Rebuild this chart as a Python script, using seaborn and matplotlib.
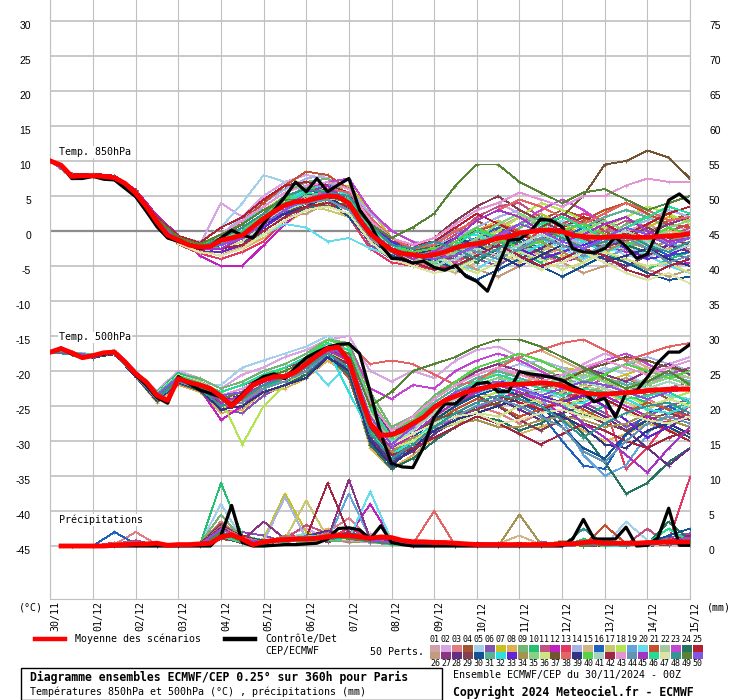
import numpy as np
import pandas as pd
import matplotlib
matplotlib.use("Agg")
import matplotlib.pyplot as plt
from matplotlib.lines import Line2D
from matplotlib.patches import Rectangle
from matplotlib.transforms import ScaledTranslation
import seaborn as sns

# ---------------------------------------------------------------- data
DATE_LABELS = ["30/11", "01/12", "02/12", "03/12", "04/12", "05/12", "06/12", "07/12",
               "08/12", "09/12", "10/12", "11/12", "12/12", "13/12", "14/12", "15/12"]
DAYS_6H = np.arange(61) * 0.25          # 00Z 30/11 .. 00Z 15/12, every 6 h
DAYS_12H = np.arange(31) * 0.5          # every 12 h
LEFT_TICKS = list(range(-45, 31, 5))
RIGHT_TICKS = list(range(0, 76, 5))
MEMBER_IDS = [f"{i:02d}" for i in range(1, 51)]
PERT_COLORS = ['#d4a0a8', '#d8a4e4', '#e07c84', '#a45430', '#a4d0ec', '#8454b4', '#c8c024',
               '#e0b054', '#74b474', '#24c074', '#c45080', '#c020c0', '#e43864', '#a4b4e4',
               '#d4b484', '#2060c0', '#c8c870', '#b4e454', '#64a4dc', '#64dcec', '#c45030',
               '#a4c8a0', '#c444d4', '#247460', '#b42030', '#c49c7c', '#8c3484', '#643084',
               '#844050', '#145094', '#54b494', '#30e0e0', '#6424d4', '#a49454', '#84d484',
               '#cce484', '#745430', '#e46464', '#303484', '#54d444', '#a4d4c4', '#a42444',
               '#e494d4', '#6494b4', '#a434c4', '#24dc94', '#dce4a4', '#349494', '#548434',
               '#8454e4']

T850_MEAN = [10.0, 9.4, 7.8, 7.9, 7.9, 7.8, 7.6, 6.8, 5.4, 3.5, 1.3, -0.6, -1.3, -2.0, -2.3, -2.2,
             -1.3, -1.0, -0.6, 0.6, 1.8, 2.8, 3.7, 4.2, 4.3, 4.7, 5.0, 4.9, 4.0, 1.6, -0.4, -1.6,
             -2.7, -3.2, -3.4, -3.6, -3.4, -3.0, -2.4, -2.0, -1.8, -1.5, -1.0, -0.8, -0.3, -0.1,
             0.1, 0.1, -0.1, -0.6, -0.8, -0.9, -0.9, -0.8, -0.8, -0.9, -0.9, -0.8, -0.7, -0.6, -0.4]
T850_CTRL = [10.0, 9.4, 7.5, 7.5, 7.8, 7.4, 7.3, 6.1, 4.9, 2.8, 0.6, -1.0, -1.5, -2.0, -2.5, -2.2,
             -1.0, 0.1, -0.6, -1.0, 1.1, 3.0, 4.9, 7.0, 5.6, 7.5, 5.6, 6.6, 7.5, 3.0, 1.0, -2.0,
             -3.9, -4.0, -4.6, -4.3, -5.2, -5.6, -4.9, -6.5, -7.2, -8.6, -4.9, -1.3, -1.2, -0.1,
             1.7, 1.5, 0.6, -2.5, -3.0, -3.1, -2.5, -0.9, -2.2, -3.9, -3.3, 0.1, 4.4, 5.3, 4.0]
T500_MEAN = [-17.3, -16.8, -17.4, -18.1, -17.8, -17.4, -17.3, -18.7, -20.4, -21.6, -23.5, -24.2,
             -21.1, -21.6, -22.0, -22.5, -23.6, -25.0, -23.6, -22.0, -21.3, -20.8, -20.8, -20.1,
             -19.0, -17.8, -16.8, -16.6, -18.5, -23.3, -27.5, -29.2, -29.1, -28.5, -27.5, -26.6,
             -25.2, -24.2, -23.6, -23.0, -22.6, -22.3, -22.0, -21.9, -21.9, -21.8, -21.7, -21.8,
             -22.1, -22.7, -23.1, -23.3, -23.3, -23.2, -23.1, -23.0, -22.8, -22.7, -22.6, -22.6,
             -22.6]
T500_CTRL = [-17.3, -16.7, -17.6, -18.1, -17.8, -17.6, -17.3, -18.8, -20.6, -22.0, -23.8, -24.6,
             -20.8, -21.8, -22.7, -23.2, -23.7, -24.8, -23.3, -21.8, -20.8, -20.4, -21.1, -19.5,
             -18.1, -17.3, -16.6, -16.2, -16.1, -17.5, -23.0, -29.0, -33.2, -33.7, -33.8, -30.9,
             -26.6, -24.7, -24.7, -23.3, -21.8, -21.6, -23.0, -22.9, -20.1, -20.4, -20.6, -20.9,
             -21.3, -22.2, -22.9, -24.4, -23.9, -26.6, -23.1, -22.8, -20.9, -18.8, -17.3, -17.3,
             -16.2]
# precipitation (mm per step), first value at 06Z 30/11
PRECIP_MEAN = [0, 0, 0, 0, 0, 0.1, 0.2, 0.3, 0.3, 0.4, 0.1, 0.2, 0.2, 0.3, 0.4, 1.3, 1.6, 1.0,
               0.2, 0.6, 0.8, 0.9, 1.0, 1.0, 1.1, 1.3, 1.5, 1.5, 1.3, 1.1, 1.3, 1.2, 0.8, 0.6,
               0.6, 0.5, 0.5, 0.4, 0.3, 0.2, 0.2, 0.2, 0.2, 0.2, 0.2, 0.2, 0.2, 0.3, 0.3, 0.5,
               0.6, 0.4, 0.4, 0.4, 0.4, 0.5, 0.5, 0.6, 0.6, 0.6]
PRECIP_CTRL = [0, 0, 0, 0, 0, 0, 0, 0, 0, 0, 0, 0, 0, 0, 0,
               1.5, 5.8, 0.5, 0, 0, 0.1, 0.2, 0.2, 0.3, 0.4, 1.0, 2.5, 2.6, 2.3, 1.0, 2.9, 0.5,
               0.2, 0, 0,
               0, 0, 0, 0, 0, 0, 0, 0, 0, 0, 0, 0, 0,
               1.0, 3.8, 1.0, 1.0, 1.0, 2.7, 0, 0.1, 1.2, 5.4, 0.1, 0.1]

# 50 perturbed members, 12-hourly (T850 / T500 from 00Z 30/11, precip from 12Z 30/11)
T850_MEMBERS = [
    "10 7.9 7.8 7.6 5.2 1.0 -1.5 -2.8 -2.0 -1.0 1.5 3.0 5.5 6.5 5.0 0.5 -2.5 -3.0 -4.0 -3.0 -1.5 0.5 2.0 1.0 -1.0 -2.0 -1.5 0.0 1.0 -0.5 -1.0",
    "10 8.0 8.1 7.8 5.5 1.5 -1.0 -2.0 4.0 2.0 5.0 7.0 8.0 7.5 6.0 2.0 -1.5 -3.5 -2.0 1.0 3.0 4.0 2.5 0.5 -1.0 0.5 2.0 3.0 2.5 1.0 0.0",
    "10 7.7 7.9 7.4 5.0 0.8 -1.8 -3.0 -3.5 -2.0 0.5 2.5 4.0 6.0 3.5 -1.0 -3.5 -4.5 -5.0 -4.0 -3.0 -1.5 -2.0 -3.5 -2.5 -1.0 0.5 -0.5 -2.0 -3.0 -2.5",
    "10 7.8 7.9 7.7 5.6 1.8 -1.2 -2.2 -1.0 0.5 2.0 4.5 5.0 5.5 4.0 -0.5 -2.0 -2.5 -1.5 0.0 1.5 0.0 -1.0 1.5 3.0 2.0 0.0 -1.5 -0.5 1.5 2.5",
    "10 8.1 8.0 7.9 5.8 2.0 -0.8 -1.5 0.5 4.0 8.0 7.0 6.0 5.0 5.5 1.0 -2.0 -3.0 -3.5 -1.0 -2.0 -3.5 -1.0 0.5 1.5 0.0 -2.0 -3.5 -4.0 -2.0 -1.0",
    "10 7.8 7.7 7.5 5.3 1.2 -1.6 -2.5 -2.5 -1.5 1.0 3.5 4.5 4.0 3.0 -2.0 -4.0 -4.5 -4.0 -2.5 -4.0 -5.0 -3.0 -1.0 0.5 -1.0 -3.0 -2.0 -1.0 -3.0 -4.0",
    "10 7.9 8.0 7.6 5.4 1.3 -1.1 -2.4 -2.0 -0.5 2.5 5.0 4.0 5.5 6.5 3.0 -1.0 -2.0 -2.5 -3.5 -2.0 0.0 1.0 2.5 1.0 -0.5 -2.5 -1.0 0.5 2.0 1.5",
    "10 7.6 7.8 7.5 5.1 1.0 -1.4 -2.6 -1.5 -2.5 -1.0 1.0 3.0 5.0 4.5 0.0 -3.0 -4.0 -3.0 -2.0 0.0 1.5 0.0 -2.0 -3.5 -4.0 -2.5 -1.0 -2.0 -3.0 -2.0",
    "10 8.0 7.9 7.8 5.6 1.4 -1.0 -2.0 -1.0 1.0 3.5 5.5 7.0 7.5 5.0 -0.5 -2.5 -3.5 -3.0 -1.5 -3.0 -2.0 0.5 1.5 0.0 -1.5 -1.0 1.0 2.0 0.5 -1.0",
    "10 7.9 7.8 7.7 5.5 1.6 -1.3 -2.3 -2.5 -1.0 0.0 2.0 3.5 5.0 4.0 1.5 -1.5 -3.0 -4.5 -5.5 -3.5 -1.5 -3.0 -4.5 -3.0 -1.5 -3.0 -4.5 -5.5 -4.0 -3.0",
    "10 7.8 7.9 7.5 5.2 1.1 -1.5 -2.7 -1.8 0.0 2.0 3.0 4.0 5.0 3.0 -1.5 -3.5 -3.5 -2.5 -0.5 2.0 3.5 4.0 2.0 0.5 -1.0 0.0 1.5 0.5 -1.0 0.5",
    "10 8.2 8.1 7.9 5.9 2.2 -0.6 -3.5 -5.0 -5.0 -2.0 1.0 3.5 6.5 5.0 1.0 -1.0 -2.0 -3.0 -4.0 -2.5 -1.0 -2.0 -3.0 -4.5 -3.5 -2.0 -3.0 -3.5 -5.0 -4.5",
    "10 7.7 7.8 7.4 4.9 0.9 -1.9 -3.2 -4.0 -3.0 -1.5 1.5 3.0 4.0 2.0 -2.5 -4.5 -5.0 -5.5 -4.5 -3.0 -3.5 -2.0 0.0 1.0 2.5 1.5 0.0 -1.0 0.0 1.0",
    "10 7.9 8.0 7.7 5.4 1.5 -1.2 -2.1 -0.5 2.0 4.0 6.0 7.5 8.0 6.0 2.5 0.0 -1.5 -2.0 -1.0 0.5 2.0 3.0 1.5 -0.5 -2.0 -1.5 0.5 1.5 3.0 2.0",
    "10 7.8 7.8 7.6 5.3 1.3 -1.4 -2.9 -3.0 -2.5 0.5 3.0 5.0 4.0 5.0 0.0 -3.5 -4.0 -5.0 -6.0 -4.5 -2.5 -1.0 -2.5 -1.5 0.0 -1.0 -2.5 -3.5 -2.5 -1.5",
    "10 8.0 7.9 7.6 5.4 1.2 -1.2 -2.3 -1.5 -0.5 1.5 3.5 5.0 6.0 4.5 -1.0 -3.0 -4.0 -3.5 -2.0 -1.0 0.5 -1.0 -2.5 -1.0 0.5 1.5 0.0 -2.0 -3.5 -3.0",
    "10 7.9 7.7 7.5 5.2 1.0 -1.6 -2.6 -2.0 -1.0 1.0 2.0 3.5 3.0 2.0 -1.5 -3.0 -2.5 -3.5 -2.5 -2.0 -3.0 -4.5 -3.0 -1.0 -0.5 -2.0 -2.5 -1.5 0.0 -0.5",
    "10 8.1 8.0 7.8 5.7 1.7 -0.9 -1.8 -0.5 1.0 3.0 5.0 5.5 6.0 5.5 0.5 -2.5 -3.5 -4.5 -3.5 -1.5 0.0 2.0 4.0 3.0 1.5 0.5 2.0 3.5 2.5 1.0",
    "10 7.8 7.9 7.7 5.5 1.4 -1.3 -2.5 -1.0 0.0 1.0 4.0 6.5 7.0 5.0 0.0 -2.0 -3.0 -1.5 0.0 -1.5 -3.0 -2.0 -0.5 -2.0 -3.5 -4.0 -2.5 -1.0 -1.5 -3.0",
    "10 7.7 7.8 7.5 5.1 1.1 -1.5 -2.6 -2.5 -1.5 -0.5 1.0 0.5 -1.5 -1.0 -2.5 -3.5 -3.0 -4.0 -5.0 -5.5 -3.5 -2.0 -1.0 -2.5 -4.0 -3.0 -2.0 -3.5 -5.0 -6.0",
    "10 7.9 8.0 7.6 5.3 1.3 -1.2 -2.2 -1.0 1.5 4.0 6.5 8.5 8.0 6.0 1.5 -1.5 -2.5 -3.0 -2.0 0.0 1.0 0.0 -1.5 -0.5 1.5 3.0 4.0 2.5 1.0 0.5",
    "10 8.0 7.9 7.7 5.5 1.5 -1.1 -2.1 -1.5 0.0 2.0 4.0 5.0 4.5 3.5 -1.0 -3.0 -3.5 -4.0 -2.5 -3.5 -4.5 -3.0 -2.0 -0.5 -1.5 -2.0 -0.5 0.5 -0.5 -2.0",
    "10 7.8 7.8 7.5 5.2 1.2 -1.5 -2.8 -2.5 -1.0 1.5 3.5 6.0 7.0 7.5 3.0 0.0 -1.5 -3.0 -4.5 -2.0 -1.0 1.0 3.0 4.5 3.0 1.0 -1.0 -2.5 -1.5 0.0",
    "10 7.9 7.9 7.6 5.3 1.3 -1.3 -2.4 -1.8 -0.5 1.0 2.5 3.0 4.5 3.5 -0.5 -2.5 -3.0 -2.0 -3.0 -4.5 -2.5 -1.5 -3.0 -4.0 -2.5 -1.0 -2.0 -3.0 -2.0 -1.0",
    "10 8.1 8.2 7.9 5.8 1.9 -0.7 -1.7 0.5 2.0 4.5 6.5 7.0 6.5 5.5 2.0 -1.0 -2.0 -1.5 0.5 2.5 1.0 -0.5 -1.5 0.5 2.0 1.0 -0.5 1.0 2.5 3.5",
    "10 7.7 7.8 7.4 5.0 0.9 -1.8 -3.1 -3.0 -2.0 0.0 2.0 2.5 4.0 3.0 -1.5 -3.0 -4.0 -5.0 -4.0 -5.5 -6.5 -5.0 -3.5 -4.5 -6.0 -5.0 -4.0 -5.5 -6.5 -5.5",
    "10 7.9 7.9 7.7 5.4 1.4 -1.2 -2.3 -1.5 -0.5 2.5 4.0 4.5 6.0 4.0 -0.5 -2.0 -3.0 -3.5 -1.5 0.0 -1.5 -0.5 1.0 2.5 1.0 -0.5 -1.5 -0.5 1.0 2.0",
    "10 7.8 7.9 7.6 5.3 1.2 -1.4 -2.5 -2.0 -1.0 1.0 3.0 5.0 5.5 4.5 0.0 -2.5 -3.5 -4.5 -3.0 -1.0 -2.5 -4.0 -2.5 -1.0 -2.5 -4.0 -5.0 -3.5 -2.0 -3.0",
    "10 8.0 8.0 7.8 5.6 1.6 -1.0 -1.9 -1.0 1.0 3.0 3.5 5.5 6.0 4.0 1.0 -1.5 -2.0 -1.0 1.5 3.5 5.0 3.0 1.5 0.0 -1.0 -2.5 -1.0 0.5 -1.0 -2.0",
    "10 7.8 7.7 7.5 5.2 1.1 -1.5 -2.7 -2.5 -1.5 0.0 2.0 4.0 4.5 2.0 -1.5 -3.5 -4.5 -4.0 -5.5 -7.0 -5.5 -4.0 -5.0 -6.5 -5.0 -3.5 -4.5 -6.0 -7.0 -6.5",
    "10 7.9 7.8 7.6 5.4 1.3 -1.2 -2.3 -1.0 0.0 2.0 4.5 5.5 5.0 4.0 -0.5 -3.0 -3.5 -3.0 -2.5 -1.5 -0.5 1.0 2.0 1.0 0.5 2.0 3.0 2.0 3.5 2.5",
    "10 8.0 8.1 7.8 5.6 1.6 -1.0 -2.0 -0.5 1.5 3.0 4.0 6.0 6.5 5.0 0.5 -2.0 -3.0 -3.5 -1.0 -0.5 -2.0 -3.5 -2.0 -0.5 -1.5 -3.0 -2.0 -1.5 -0.5 -1.0",
    "10 7.7 7.8 7.5 5.1 1.0 -1.6 -2.8 -3.0 -2.0 0.5 2.5 4.5 6.0 5.5 1.0 -1.5 -3.0 -4.0 -3.5 -2.0 -1.0 -2.5 -4.0 -3.0 -2.0 -1.0 -2.5 -4.0 -3.5 -2.0",
    "10 7.8 7.9 7.6 5.4 1.4 -1.3 -2.4 -1.5 -0.5 1.5 3.0 4.5 5.5 4.5 -0.5 -2.5 -4.0 -3.5 -1.5 -3.0 -1.5 0.0 -1.5 -3.0 -4.5 -3.0 -1.5 -2.5 -1.5 -0.5",
    "10 7.9 8.0 7.7 5.5 1.5 -1.1 -2.1 -1.0 0.0 2.5 4.0 5.0 5.0 3.0 -1.0 -3.0 -4.0 -4.5 -3.0 -1.0 1.0 2.5 1.0 -1.0 0.0 1.5 0.0 -1.5 0.5 1.5",
    "10 7.8 7.7 7.5 5.1 1.0 -1.6 -2.8 -2.5 -1.5 1.0 3.0 3.5 4.5 3.5 0.0 -2.0 -2.5 -3.5 -5.0 -6.0 -4.5 -3.0 -4.0 -5.5 -4.5 -3.0 -4.0 -5.0 -4.5 -6.0",
    "10 8.0 7.9 7.7 5.4 1.3 -1.2 -2.2 -1.5 -1.0 1.0 2.5 4.0 3.5 4.0 1.5 -1.0 -2.5 -3.5 -4.0 -2.5 -1.0 -1.0 0.5 2.0 5.0 9.5 10.0 11.5 10.5 7.5",
    "10 7.9 7.9 7.6 5.3 1.3 -1.3 -2.4 -2.0 -0.5 2.0 3.5 4.5 6.0 5.5 2.0 -1.0 -2.5 -2.0 0.0 1.5 3.0 4.5 3.5 2.0 1.0 2.5 4.0 3.0 1.5 2.0",
    "10 7.8 7.8 7.5 5.2 1.2 -1.4 -2.6 -2.0 -1.0 1.0 2.5 3.5 5.0 3.0 -1.0 -3.0 -3.5 -2.5 -1.0 -2.0 -3.5 -5.0 -3.5 -2.0 -3.0 -4.5 -3.5 -2.5 -4.0 -5.0",
    "10 8.0 8.0 7.7 5.5 1.5 -1.1 -2.1 -1.0 0.5 2.0 4.5 6.5 5.5 4.5 0.5 -2.0 -3.0 -2.5 -1.5 0.5 -1.0 -2.5 -1.5 0.0 1.0 -0.5 -2.0 -1.0 0.5 -0.5",
    "10 7.9 7.8 7.6 5.3 1.2 -1.4 -2.5 -2.0 -1.0 1.5 3.0 4.0 4.5 4.5 0.0 -2.5 -3.5 -5.0 -4.0 -2.5 -3.5 -2.0 -0.5 -1.5 -2.5 -1.0 0.0 -1.5 -3.0 -2.0",
    "10 7.8 7.9 7.5 5.2 1.1 -1.5 -2.7 -2.5 -2.0 0.0 2.0 3.5 4.0 3.5 -0.5 -3.0 -4.5 -5.5 -5.0 -3.5 -2.0 -3.5 -5.0 -4.0 -2.5 -3.5 -5.5 -6.5 -5.0 -4.0",
    "10 8.0 8.0 7.8 5.6 1.6 -0.9 -1.9 -0.5 1.5 3.5 5.5 6.5 7.0 6.0 1.5 -1.0 -2.0 -1.0 1.0 3.0 4.0 5.5 4.5 3.5 5.0 5.0 6.5 7.5 7.0 7.0",
    "10 7.9 7.8 7.6 5.3 1.3 -1.3 -2.4 -1.5 -0.5 1.5 3.5 4.0 4.5 3.0 -1.0 -3.0 -3.5 -3.0 -2.0 -3.0 -4.0 -2.5 -1.0 -2.0 -3.5 -2.0 -1.0 -2.5 -4.5 -3.5",
    "10 7.8 7.8 7.5 5.2 1.1 -1.5 -2.6 -2.5 -1.0 1.0 3.0 5.5 6.5 4.0 -0.5 -2.5 -4.0 -3.0 -1.0 1.5 3.0 2.0 0.0 -1.5 -0.5 1.0 2.0 0.0 -1.5 -1.0",
    "10 7.9 7.9 7.7 5.4 1.4 -1.2 -2.3 -1.5 0.0 2.0 4.0 5.5 5.0 4.5 0.5 -2.0 -3.5 -4.0 -2.0 0.0 -1.0 -0.5 1.0 2.0 0.5 -1.0 0.5 2.0 3.5 2.5",
    "10 7.7 7.8 7.4 5.0 0.9 -1.8 -3.0 -3.5 -2.5 -0.5 1.5 3.0 3.5 2.5 -1.5 -4.0 -5.0 -6.0 -5.5 -4.0 -2.5 -4.0 -5.5 -4.5 -3.0 -4.5 -6.0 -7.0 -6.0 -7.5",
    "10 7.9 8.0 7.6 5.4 1.4 -1.2 -2.3 -1.0 0.5 2.5 5.0 6.0 5.5 5.0 1.0 -2.0 -2.5 -1.5 -2.5 -4.0 -2.5 -1.0 0.5 -1.0 -2.5 -1.5 -0.5 -2.0 -3.0 -1.5",
    "10 8.0 8.0 7.8 5.6 1.7 -0.9 -1.9 -0.5 1.0 3.0 4.5 4.5 5.0 4.0 1.0 -1.0 0.5 2.5 6.5 9.5 9.5 7.0 5.5 4.0 5.5 6.0 4.5 3.0 4.0 5.0",
    "10 7.8 7.9 7.5 5.2 1.2 -1.4 -2.5 -2.0 -1.0 1.0 3.0 4.5 5.5 4.0 0.0 -2.5 -3.5 -4.0 -3.5 -2.0 -0.5 1.0 0.0 -1.5 -2.5 -1.0 0.5 -0.5 -2.0 -1.0",
]

T500_MEMBERS = [
    "-17.3 -17.4 -17.9 -17.2 -20.2 -23.0 -20.5 -21.5 -23.0 -22.0 -20.5 -19.5 -18.0 -16.0 -17.0 -25.0 -29.0 -27.0 -24.0 -22.0 -20.5 -19.5 -21.0 -22.5 -21.0 -20.0 -21.5 -23.0 -22.0 -20.5 -21.0",
    "-17.2 -17.3 -17.6 -17.0 -20.0 -22.8 -20.0 -21.0 -22.5 -20.5 -19.5 -18.0 -17.0 -15.5 -15.0 -20.0 -21.5 -20.0 -21.0 -18.5 -17.0 -16.5 -18.0 -19.5 -21.0 -19.0 -17.5 -18.5 -20.0 -19.0 -18.0",
    "-17.4 -17.6 -18.0 -17.5 -20.6 -24.0 -21.5 -22.5 -25.0 -24.5 -22.0 -21.5 -20.0 -17.5 -20.0 -30.0 -33.0 -31.0 -28.0 -26.5 -25.0 -26.0 -27.5 -26.0 -24.5 -26.0 -27.5 -26.0 -24.0 -25.5 -27.0",
    "-17.3 -17.5 -17.8 -17.3 -20.4 -23.5 -21.0 -22.0 -24.0 -23.0 -21.5 -20.5 -19.0 -17.0 -19.0 -28.0 -31.0 -28.5 -25.5 -23.5 -22.0 -21.0 -20.0 -21.5 -23.0 -24.0 -22.5 -21.0 -22.5 -24.0 -23.0",
    "-17.2 -17.4 -17.7 -17.2 -20.3 -23.2 -20.8 -21.8 -22.0 -19.5 -18.5 -17.5 -16.5 -15.0 -16.5 -26.0 -30.0 -28.0 -25.0 -23.0 -21.5 -20.0 -19.0 -20.0 -22.0 -21.0 -19.5 -20.5 -22.0 -21.0 -20.0",
    "-17.3 -17.5 -17.9 -17.4 -20.5 -23.8 -21.2 -22.4 -25.5 -26.0 -23.5 -22.0 -20.5 -17.5 -19.5 -29.0 -32.5 -30.0 -27.5 -25.0 -23.0 -24.0 -25.5 -24.0 -23.0 -24.5 -26.0 -28.0 -26.5 -25.0 -24.0",
    "-17.3 -17.4 -17.8 -17.3 -20.4 -23.4 -20.8 -21.5 -23.5 -22.5 -21.0 -20.0 -18.5 -16.5 -18.0 -27.0 -30.5 -27.5 -24.5 -22.5 -21.0 -20.5 -21.5 -21.0 -19.5 -20.0 -21.5 -20.5 -19.5 -20.5 -21.5",
    "-17.4 -17.6 -18.1 -17.6 -20.8 -24.5 -22.0 -23.0 -26.0 -25.5 -23.0 -22.5 -21.0 -18.5 -20.5 -31.0 -34.0 -32.0 -29.5 -28.0 -26.5 -27.5 -29.0 -28.0 -27.0 -28.5 -30.0 -29.0 -27.5 -28.5 -29.0",
    "-17.3 -17.5 -17.8 -17.3 -20.3 -23.3 -20.5 -21.0 -22.5 -21.5 -20.0 -19.0 -17.5 -15.5 -16.0 -23.0 -28.0 -26.5 -23.5 -21.5 -20.0 -19.0 -18.0 -19.5 -21.0 -22.0 -20.5 -19.0 -18.5 -19.5 -20.5",
    "-17.2 -17.3 -17.7 -17.1 -20.1 -23.0 -20.3 -21.3 -23.5 -24.5 -22.5 -21.0 -19.5 -17.0 -18.5 -28.5 -32.0 -29.5 -26.5 -24.5 -22.5 -21.5 -22.5 -24.0 -25.0 -26.5 -25.0 -23.5 -24.5 -25.5 -24.5",
    "-17.3 -17.5 -17.9 -17.4 -20.5 -23.6 -21.0 -22.0 -24.5 -23.5 -21.0 -20.0 -19.0 -16.5 -17.5 -26.5 -30.5 -28.5 -26.0 -24.0 -23.0 -22.0 -21.0 -22.0 -23.5 -22.5 -21.0 -22.0 -23.5 -22.5 -21.5",
    "-17.3 -17.4 -17.8 -17.2 -20.3 -23.3 -21.5 -22.5 -27.0 -25.0 -22.5 -21.5 -20.0 -17.0 -19.0 -29.5 -33.5 -31.0 -28.5 -26.5 -25.5 -24.0 -23.0 -24.5 -26.0 -25.0 -23.5 -25.0 -26.5 -27.5 -26.0",
    "-17.4 -17.6 -18.0 -17.5 -20.7 -24.2 -21.8 -22.8 -25.5 -24.0 -22.0 -21.0 -19.5 -17.5 -19.5 -28.0 -31.5 -29.0 -26.5 -24.5 -23.5 -22.5 -24.0 -25.5 -24.0 -23.0 -25.0 -34.0 -31.0 -27.0 -25.0",
    "-17.3 -17.5 -17.8 -17.3 -20.4 -23.5 -21.0 -21.8 -23.0 -22.0 -20.5 -19.5 -18.0 -16.0 -17.0 -24.0 -28.5 -27.0 -24.5 -22.5 -21.0 -20.0 -19.0 -18.5 -19.5 -21.0 -20.0 -19.0 -18.0 -19.0 -20.0",
    "-17.2 -17.3 -17.7 -17.2 -20.2 -23.1 -20.6 -21.4 -23.5 -22.5 -21.0 -20.5 -18.5 -16.5 -17.5 -25.5 -29.5 -28.0 -26.0 -24.0 -21.5 -19.5 -18.0 -17.0 -18.5 -20.0 -19.0 -18.0 -19.5 -21.0 -20.0",
    "-17.3 -17.5 -17.9 -17.4 -20.5 -23.7 -21.2 -22.2 -24.0 -24.5 -22.5 -21.5 -20.5 -18.0 -20.5 -30.5 -33.0 -30.5 -28.0 -26.0 -24.5 -23.5 -24.5 -26.0 -30.0 -33.5 -34.0 -29.0 -26.0 -25.0 -26.5",
    "-17.3 -17.4 -17.8 -17.3 -20.4 -23.4 -21.0 -22.0 -24.0 -23.0 -21.5 -20.0 -19.0 -16.5 -18.0 -27.5 -31.0 -29.0 -26.5 -25.0 -23.5 -22.5 -23.5 -24.5 -23.0 -22.0 -23.0 -24.5 -25.5 -24.0 -23.0",
    "-17.2 -17.4 -17.7 -17.2 -20.2 -23.2 -20.7 -21.6 -24.0 -30.5 -25.0 -22.0 -20.0 -17.5 -18.5 -28.0 -31.5 -29.5 -27.0 -25.5 -24.0 -23.0 -22.0 -23.5 -25.0 -24.0 -22.5 -23.5 -25.0 -24.0 -23.0",
    "-17.3 -17.5 -17.8 -17.3 -20.4 -23.5 -21.0 -22.0 -24.5 -23.5 -21.5 -20.5 -19.0 -16.5 -18.0 -26.0 -30.0 -28.0 -25.5 -23.5 -22.0 -21.0 -22.5 -24.0 -27.0 -32.0 -35.0 -33.5 -29.0 -26.0 -27.0",
    "-17.3 -17.4 -17.8 -17.3 -20.4 -23.4 -21.0 -21.8 -23.5 -22.5 -21.0 -20.0 -18.5 -22.0 -19.0 -27.0 -31.0 -29.0 -26.5 -24.5 -23.5 -22.0 -21.0 -22.5 -24.0 -23.5 -22.0 -21.5 -22.5 -23.5 -24.0",
    "-17.4 -17.6 -18.0 -17.5 -20.7 -24.0 -21.5 -22.5 -25.0 -24.0 -22.0 -21.0 -20.0 -17.5 -21.0 -30.0 -32.5 -30.0 -27.5 -25.5 -24.0 -25.0 -26.5 -25.5 -24.0 -25.5 -27.0 -26.0 -24.5 -25.5 -26.5",
    "-17.3 -17.5 -17.9 -17.3 -20.4 -23.6 -21.1 -22.1 -24.5 -24.0 -22.0 -20.5 -19.0 -16.5 -17.0 -24.5 -29.0 -27.5 -25.0 -23.0 -21.5 -20.5 -21.5 -22.5 -21.5 -20.5 -21.5 -22.5 -21.0 -20.0 -21.0",
    "-17.2 -17.3 -17.7 -17.2 -20.2 -23.1 -20.7 -21.7 -23.0 -22.0 -20.5 -19.5 -18.0 -15.5 -16.5 -22.5 -24.0 -22.0 -22.5 -20.0 -18.5 -17.5 -18.5 -20.0 -21.5 -20.0 -18.5 -17.5 -19.0 -20.5 -19.5",
    "-17.4 -17.6 -18.1 -17.6 -20.8 -24.3 -21.7 -22.8 -25.5 -25.0 -23.0 -22.0 -20.5 -18.0 -20.5 -30.5 -34.0 -32.5 -30.0 -28.0 -26.5 -27.0 -28.5 -27.5 -26.0 -29.0 -33.0 -37.5 -36.0 -33.0 -31.0",
    "-17.3 -17.5 -17.8 -17.3 -20.4 -23.5 -21.0 -22.0 -24.5 -23.5 -21.5 -20.5 -19.5 -17.0 -18.5 -28.0 -32.0 -30.0 -27.5 -26.0 -24.5 -23.5 -24.5 -25.5 -24.5 -23.0 -24.0 -25.5 -27.0 -28.5 -30.0",
    "-17.3 -17.4 -17.8 -17.3 -20.3 -23.3 -20.9 -21.9 -23.5 -22.5 -21.0 -20.0 -18.5 -16.0 -17.5 -26.0 -30.0 -28.5 -26.0 -23.5 -22.0 -21.0 -20.0 -21.0 -22.5 -23.5 -22.0 -21.0 -22.0 -23.0 -22.0",
    "-17.2 -17.4 -17.7 -17.2 -20.2 -23.2 -20.6 -21.6 -23.0 -22.0 -21.0 -19.5 -18.5 -16.0 -17.0 -25.0 -29.0 -27.0 -24.0 -22.0 -20.0 -19.0 -20.0 -21.0 -20.5 -19.5 -20.5 -21.5 -20.0 -19.0 -20.5",
    "-17.4 -17.6 -18.0 -17.5 -20.6 -23.9 -21.4 -22.4 -25.0 -24.0 -22.0 -21.0 -19.5 -17.5 -20.0 -29.5 -33.0 -31.5 -29.0 -27.0 -25.0 -24.0 -25.5 -27.0 -26.0 -25.0 -26.5 -28.5 -31.0 -33.5 -31.0",
    "-17.3 -17.5 -17.8 -17.3 -20.4 -23.5 -21.0 -22.0 -24.0 -23.0 -21.5 -20.5 -19.0 -16.5 -18.5 -27.0 -31.0 -29.0 -26.5 -24.5 -23.5 -25.0 -27.0 -28.5 -27.0 -26.0 -27.5 -28.5 -27.0 -26.0 -27.0",
    "-17.3 -17.4 -17.8 -17.3 -20.3 -23.4 -20.9 -22.0 -24.5 -24.0 -22.0 -20.5 -19.0 -16.5 -18.0 -27.5 -31.5 -29.5 -27.0 -25.0 -23.5 -22.5 -23.5 -25.0 -28.0 -31.0 -32.5 -29.0 -27.0 -28.0 -29.5",
    "-17.2 -17.3 -17.7 -17.2 -20.2 -23.2 -20.7 -21.7 -23.5 -22.5 -21.0 -19.5 -18.0 -16.0 -17.0 -25.5 -29.5 -27.5 -24.5 -22.5 -21.0 -20.0 -21.0 -22.0 -21.0 -20.0 -21.0 -22.0 -21.5 -20.5 -21.5",
    "-17.3 -17.5 -17.9 -17.4 -20.5 -23.6 -21.1 -22.1 -24.5 -23.5 -22.0 -21.0 -19.5 -17.0 -23.0 -29.0 -32.0 -30.0 -27.5 -26.0 -24.5 -23.5 -22.5 -23.5 -25.0 -24.5 -23.0 -24.0 -25.5 -26.0 -25.0",
    "-17.3 -17.4 -17.8 -17.3 -20.4 -23.4 -21.0 -22.0 -24.0 -23.5 -21.5 -20.0 -18.5 -16.5 -18.0 -27.0 -31.0 -28.5 -26.0 -24.0 -22.5 -21.5 -22.0 -23.5 -24.5 -23.5 -25.0 -27.0 -29.5 -28.0 -26.5",
    "-17.4 -17.6 -18.0 -17.5 -20.6 -23.8 -21.3 -22.3 -24.5 -24.0 -22.0 -21.0 -19.5 -17.0 -18.5 -28.0 -31.5 -29.5 -28.5 -27.5 -27.0 -28.0 -28.0 -27.0 -26.5 -27.0 -28.0 -27.5 -26.0 -27.0 -28.0",
    "-17.3 -17.5 -17.8 -17.3 -20.4 -23.5 -21.0 -22.0 -23.5 -23.0 -21.0 -20.0 -18.5 -16.0 -17.5 -26.5 -30.0 -28.0 -25.5 -23.5 -22.0 -21.0 -21.5 -22.0 -21.0 -20.5 -21.5 -22.5 -22.0 -21.0 -22.0",
    "-17.2 -17.4 -17.7 -17.2 -20.2 -23.1 -20.6 -21.6 -23.0 -24.5 -21.0 -19.5 -18.0 -16.0 -17.5 -26.0 -31.0 -30.0 -28.0 -27.5 -26.0 -26.5 -25.0 -24.0 -24.5 -26.0 -27.0 -26.0 -25.0 -24.0 -25.0",
    "-17.3 -17.5 -17.8 -17.3 -20.4 -23.5 -21.0 -22.0 -24.0 -23.0 -21.5 -20.5 -19.0 -17.0 -18.5 -27.5 -31.0 -29.0 -27.0 -26.0 -25.5 -24.5 -23.5 -22.5 -21.5 -20.0 -19.0 -18.0 -18.5 -19.5 -20.0",
    "-17.3 -17.4 -17.9 -17.4 -20.5 -23.6 -21.2 -22.2 -24.5 -24.0 -22.5 -21.5 -20.0 -17.5 -16.0 -19.0 -18.5 -19.0 -20.5 -22.0 -21.5 -19.5 -18.0 -17.0 -16.0 -15.5 -17.0 -18.5 -17.5 -16.5 -16.0",
    "-17.4 -17.6 -18.1 -17.6 -20.8 -24.2 -21.6 -22.6 -25.5 -25.0 -23.0 -22.0 -21.0 -18.0 -20.0 -30.0 -33.5 -31.0 -28.5 -27.0 -26.0 -25.0 -24.0 -25.0 -26.5 -28.0 -30.5 -31.0 -28.5 -27.5 -29.0",
    "-17.3 -17.5 -17.8 -17.3 -20.4 -23.5 -21.0 -22.0 -23.5 -22.5 -21.0 -19.5 -18.0 -15.5 -16.5 -24.0 -28.5 -27.0 -24.0 -21.5 -19.5 -18.5 -17.5 -18.5 -20.0 -21.5 -20.5 -19.0 -20.0 -21.0 -20.0",
    "-17.2 -17.3 -17.7 -17.2 -20.2 -23.2 -20.8 -21.8 -24.0 -23.0 -21.0 -20.0 -18.5 -16.5 -17.5 -26.5 -30.5 -28.5 -26.0 -24.0 -22.5 -21.5 -22.5 -23.0 -22.0 -21.5 -22.5 -23.5 -22.5 -21.5 -22.5",
    "-17.3 -17.5 -17.9 -17.4 -20.5 -23.6 -21.2 -22.2 -25.0 -24.5 -22.5 -21.5 -20.0 -17.5 -19.0 -28.0 -32.0 -31.0 -29.5 -28.0 -26.5 -27.5 -29.0 -30.5 -29.0 -27.5 -28.5 -30.0 -31.0 -29.5 -28.5",
    "-17.3 -17.4 -17.8 -17.3 -20.4 -23.4 -20.9 -21.9 -23.5 -22.5 -21.0 -20.0 -18.5 -16.0 -17.0 -24.5 -28.5 -26.5 -24.0 -22.0 -20.5 -19.5 -20.5 -21.5 -20.5 -19.5 -18.5 -19.5 -20.5 -19.5 -18.5",
    "-17.4 -17.6 -18.0 -17.5 -20.7 -24.0 -21.5 -22.5 -25.0 -24.5 -22.5 -21.5 -20.0 -17.5 -19.5 -29.0 -32.5 -30.5 -28.0 -26.5 -25.0 -24.0 -25.0 -26.5 -28.0 -31.5 -33.0 -30.0 -27.5 -26.5 -27.5",
    "-17.3 -17.5 -17.8 -17.3 -20.4 -23.5 -21.0 -22.0 -24.5 -23.5 -22.0 -20.5 -19.5 -17.0 -18.5 -27.5 -31.0 -29.0 -26.5 -24.5 -23.0 -22.0 -23.0 -24.0 -25.0 -27.5 -29.5 -32.0 -34.5 -31.0 -28.0",
    "-17.2 -17.3 -17.7 -17.2 -20.2 -23.2 -20.7 -21.7 -23.0 -22.0 -20.5 -19.5 -18.0 -16.0 -17.0 -25.0 -29.5 -27.5 -25.0 -23.0 -21.5 -20.5 -21.5 -22.5 -23.5 -22.5 -23.0 -24.0 -23.5 -23.0 -24.5",
    "-17.3 -17.4 -17.8 -17.3 -20.4 -23.4 -21.0 -22.0 -24.0 -23.0 -21.5 -20.0 -19.0 -16.5 -18.0 -27.0 -30.5 -29.0 -27.5 -26.5 -26.0 -27.5 -27.0 -26.0 -25.5 -26.5 -27.0 -26.0 -27.0 -27.5 -26.5",
    "-17.4 -17.6 -18.0 -17.5 -20.6 -23.9 -21.4 -22.4 -25.0 -24.0 -22.0 -21.0 -19.5 -17.5 -19.5 -29.0 -32.5 -30.5 -28.0 -26.0 -24.5 -23.5 -24.0 -25.0 -27.0 -29.5 -27.5 -26.0 -25.0 -24.5 -26.0",
    "-17.3 -17.5 -17.8 -17.3 -20.4 -23.5 -21.0 -22.0 -24.0 -23.0 -21.0 -20.0 -18.5 -16.5 -17.5 -25.0 -23.0 -20.0 -19.0 -18.0 -16.5 -15.5 -15.5 -16.5 -18.0 -19.5 -21.0 -22.5 -21.5 -20.0 -22.0",
    "-17.3 -17.4 -17.8 -17.3 -20.4 -23.4 -20.9 -21.9 -23.5 -23.0 -21.5 -20.5 -19.0 -16.5 -18.0 -26.5 -30.5 -28.0 -25.0 -23.0 -22.0 -21.5 -22.5 -23.5 -22.5 -21.5 -22.0 -23.0 -24.0 -23.0 -22.5",
]

PRECIP_MEMBERS = [
    "0 0 0.3 0.2 0.1 0 0.2 1.5 0.5 0.8 1.0 0.6 1.5 1.2 0.8 0.3 0.2 0.1 0 0.2 0 0 0.3 0.1 0 0.5 0.2 0 0.3 0.6",
    "0 0 0.5 0.3 0 0 0.1 2.0 0.8 0.4 1.5 2.5 1.0 0.5 1.8 0.6 0.2 0 0 0 0.4 0.1 0 0 0.2 0 0 0.6 1.2 0.4",
    "0 0 0.2 2.0 0.2 0.1 0.3 3.5 1.2 0.6 0.5 1.0 2.0 4.0 1.0 0.5 0.2 0.8 0.3 0 0 0.2 0 0.5 0.3 0 0.2 0.4 0.8 1.0",
    "0 0 0 0.3 0.4 0 0 1.0 0.6 0.2 0.8 0.5 0.9 1.2 0.5 0.2 0.1 0 0 0 0.3 0 0 0 0 0.4 0 0.2 0.3 0.2",
    "0 0 0.2 0.1 0 0 0.2 6.0 1.0 0.8 1.2 1.8 1.0 0.6 0.8 0.4 0.2 0.5 0.2 0.3 0 0 0 0.3 0 0 3.5 0.8 0.6 1.0",
    "0 0 0.3 0.8 0.1 0 0.4 2.5 2.0 1.5 0.6 0.8 1.4 2.0 1.2 0.8 0.3 0 0.2 0.5 0.1 0 0.6 0.3 0 0.2 0.4 0.3 1.2 1.8",
    "0 0 0.1 0.2 0.1 0.1 0 1.8 0.4 1.0 7.5 2.0 1.0 1.5 0.6 0.3 0.1 0 0 0.2 0 0 0.3 0 0.1 0 0.2 0 0.4 0.5",
    "0 0 0.4 0.5 0 0 0.2 2.2 0.8 0.5 1.0 1.2 2.5 1.0 0.5 0.8 0.2 0.1 0.4 0 0 0 0 0.8 0.2 0 0.3 0.6 0.2 0.3",
    "0 0 0.2 0.3 0.2 0 0.3 4.5 1.0 0.6 0.8 0.5 1.0 0.8 1.5 0.6 0.2 0 0.3 0.1 0.2 0 0.5 0.2 0 0.8 0.4 0.2 0.5 0.4",
    "0 0 0.1 0.2 0.1 0 0.1 9.0 1.5 0.8 0.6 1.0 1.2 0.6 0.8 0.5 0.2 0 0 0.4 0 0.3 0 0 1.0 0.4 0 0.6 1.0 0.8",
    "0 0 0.3 0.4 0 0 0.2 2.0 0.8 0.3 1.0 3.0 1.8 1.5 0.8 0.4 0.2 0.3 0 0 0.2 0 0 0.4 0 0.6 0.2 2.5 0.2 0.5",
    "0 0 0.2 0.6 0.1 0.1 0.2 1.5 0.6 0.4 0.8 1.0 0.7 1.5 6.0 1.0 0.6 0.2 0.4 0 0 0.2 0 0.3 0.1 0 0.5 0.3 0.8 1.2",
    "0 0 0.5 0.3 0 0 0.2 3.0 1.0 0.5 1.5 1.2 1.0 2.5 1.2 0.6 0.3 0.1 0 0.3 0 0 0.4 0 0.2 0 0 0.5 0.8 9.8",
    "0 0 0.1 0.2 0 0 0.1 1.2 0.4 0.6 7.0 1.0 0.8 1.0 0.6 0.3 0.1 0 0 0.2 0 0 0 0.3 0 0.1 0.3 0.2 0.4 0.3",
    "0 0 0.2 0.4 0.1 0 0.3 2.5 1.0 0.5 1.0 0.8 1.5 1.0 0.7 0.4 0.2 0 0.2 0 0.3 1.5 0.2 0 0 0.2 0 0.4 0.6 0.5",
    "0 0 2.0 0.3 0 0 0.2 2.0 0.8 0.6 1.2 1.5 1.0 2.0 0.8 0.5 0.3 0.2 0 0 0 0.3 0 0.2 0 0.5 0.2 0 0.8 1.5",
    "0 0 0.2 0.2 0.1 0 0 1.8 0.5 0.8 1.0 6.5 1.2 0.8 0.5 0.3 0 0 0.1 0 0.2 0 0 0.5 0 0.3 0 0.2 0.3 0.6",
    "0 0 0.1 0.4 0 0 0.2 2.8 1.0 0.4 0.8 1.0 1.5 1.2 0.8 0.4 0.2 0 0.3 0 0 0.5 0 0.2 0.1 0 0.6 0.3 0.5 1.0",
    "0 0 0.3 0.2 0.1 0 0.1 2.2 0.6 0.5 0.8 1.2 0.9 7.5 1.0 0.5 0.2 0.1 0 0.4 0 0 0.3 0 0 0.5 0.2 0 0.4 0.8",
    "0 0 0.2 0.3 0 0 0.2 1.6 0.8 0.3 1.0 0.8 1.2 1.0 7.8 0.8 0.3 0 0 0.2 0 0 0 0.3 0.2 0 0.4 0.3 0.6 0.4",
    "0 0 0.4 0.5 0 0 0.3 3.2 1.2 0.6 0.8 1.0 1.4 1.2 0.6 0.8 0.3 0.2 0 0 0.3 0 0.5 0 0 3.0 0.3 0 1.0 0.8",
    "0 0 0.1 0.2 0.1 0 0 1.4 0.5 0.8 1.2 1.0 0.8 0.6 0.5 0.3 0.2 0 0.1 0 0 0.2 0 0 0.3 0 0.2 0.4 0.3 0.5",
    "0 0 0.3 0.4 0 0 0.2 2.0 0.7 0.4 1.0 1.5 2.0 1.0 0.8 0.4 0.1 0 0.2 0 0.4 0 0 0.2 0 0.3 0 0.5 0.8 0.6",
    "0 0 0.2 0.3 0.1 0 0.1 1.8 0.8 0.6 1.0 0.8 1.0 1.2 0.7 0.5 0.2 0.1 0 0.3 0 0 0.2 0 0.5 0 0.3 0.2 3.5 0.8",
    "0 0 0.3 0.6 0.1 0 0.4 2.6 1.5 0.5 1.2 1.0 0.8 1.5 1.0 0.6 0.2 0 0.3 0.1 0 0.3 0 0.4 0 0.2 0.5 0.3 0.6 1.2",
    "0 0 0.1 0.2 0 0 0.1 1.5 0.6 0.3 0.8 1.2 1.0 0.8 0.6 0.3 0.1 0 0 0.2 0 0 0.3 0 0.1 0.2 0 0.3 0.4 0.3",
    "0 0 0.2 0.3 0.1 0.1 0.2 2.2 0.8 3.5 1.0 1.5 1.0 9.5 1.0 0.8 0.3 0.2 0 0 0.2 0 0 0.5 0 0.3 0.2 0 0.5 0.8",
    "0 0 0.3 0.4 0 0 0.3 2.4 1.0 0.5 1.2 1.4 2.2 1.0 0.7 0.4 0.2 0 0.2 0 0 0.4 0 0.2 0 0.5 0.3 0.2 0.6 0.9",
    "0 0 0.1 0.1 0.1 0 0.1 1.2 0.4 0.6 0.8 1.0 0.6 0.8 0.5 0.3 0 0.1 0 0 0.1 0 0.2 0 0 0.1 0.3 0 0.2 0.4",
    "0 0 0.2 0.5 0 0 0.2 3.0 1.2 0.8 1.0 1.2 1.5 1.2 0.8 0.5 0.2 0 0.4 0 0.2 0 0 0.6 0.2 0 0.5 0.4 1.5 2.5",
    "0 0 0.4 0.3 0.1 0 0.2 2.0 0.8 0.5 1.5 1.0 1.2 0.8 0.6 0.4 0.3 0.1 0 0.3 0 0 0.4 0 0.3 0 0.2 0.5 0.4 0.6",
    "0 0 0.2 0.4 0 0 0.1 1.6 0.6 0.4 0.8 1.2 1.8 1.0 0.6 0.3 0.2 0 0 0.2 0 0.2 0 0 0.4 0 0 0.3 0.6 0.5",
    "0 0 0.3 0.3 0.1 0 0.2 2.4 1.0 0.6 1.0 0.8 1.2 1.4 0.8 0.5 0.2 0.1 0.3 0 0.2 0 0 0.3 0 0.4 0.2 0.3 0.8 0.7",
    "0 0 0.1 0.2 0 0 0.2 1.8 0.6 0.3 1.0 1.0 0.8 0.6 0.5 0.2 0.1 0 0 0.1 0 4.5 0.3 0 0 0.2 0 0.3 0.4 0.3",
    "0 0 0.2 0.3 0.1 0 0.1 2.0 0.8 0.5 1.2 1.5 1.0 1.2 0.8 0.4 0.2 0 0.2 0 0 0.3 0 0.2 0 0.5 0.3 0 0.5 1.0",
    "0 0 0.3 0.4 0 0 0.3 2.6 1.0 0.6 1.0 1.2 1.4 1.0 0.7 0.4 0.2 0.1 0 0.2 0 0 0.3 0 0.2 0 0.4 0.2 0.7 0.6",
    "0 0 0.2 0.2 0.1 0 0.1 1.5 0.5 0.4 0.8 1.0 0.8 1.0 0.6 0.3 0.1 0 0.2 0 0 0.2 0 0 0.3 0 0.2 0.3 0.5 0.4",
    "0 0 0.4 0.6 0.1 0 0.2 2.8 1.2 0.6 1.4 1.0 1.8 1.5 0.9 0.5 0.3 5.0 0 0.3 0.5 0 0.2 0.4 0 0.6 0.3 0.2 0.9 1.2",
    "0 0 0.1 0.3 0 0 0.2 2.0 0.8 0.5 0.8 1.0 1.2 0.8 0.6 0.3 0.2 0 0.1 0 0.3 0 0 0.2 0 0.3 0 0.4 0.5 0.4",
    "0 0 0.3 0.2 0.1 0 0.1 2.2 0.6 0.8 1.0 1.4 1.0 1.2 0.7 0.4 0.2 0.1 0 0.2 0 0.3 0 0 0.4 0 0.3 0.2 0.6 0.8",
    "0 0 0.2 0.4 0 0 0.2 1.8 0.7 0.4 1.2 1.0 1.4 1.0 0.8 0.3 0.2 0 0.3 0 0 0.2 0 0.3 0 0.2 0.4 0 0.4 0.6",
    "0 0 0.3 0.3 0.1 0 0.3 2.6 1.0 0.5 1.0 1.2 9.0 1.8 0.8 0.5 0.2 0 0 0.4 0 0 0.3 0 0.2 0 0.3 0.5 0.8 1.5",
    "0 0 0.2 0.2 0 0 0.1 1.6 0.5 0.6 0.8 1.0 1.2 0.8 0.5 0.3 0.1 0 0.2 0 0 0.3 0 0 0.2 0.4 0 0.3 0.5 0.4",
    "0 0 0.3 0.5 0.1 0 0.2 2.4 0.9 0.5 1.0 1.2 1.0 1.4 0.8 0.4 0.2 0.1 0 0.2 0 0 0.3 0 0 0.3 0.2 0 0.6 0.7",
    "0 0 0.2 0.3 0 0 0.2 2.0 0.6 0.4 1.2 0.8 1.5 1.0 0.7 0.3 0.2 0 0.1 0 0.2 0 0 0.2 0 0.4 0.2 0.3 0.4 0.5",
    "0 0 0.1 0.2 0.1 0 0.1 1.4 0.5 0.6 0.8 1.0 0.8 1.0 0.6 0.2 0.1 0 0 0.1 0 0.2 0 0.2 0.3 0 0.2 0.4 2.5 0.6",
    "0 0 0.3 0.4 0 0 0.2 2.2 0.8 0.5 1.0 1.2 1.2 1.0 0.8 0.4 0.2 0 0.2 0 0 0.3 0 0.2 0 0.3 0.2 0.3 0.6 0.6",
    "0 0 0.2 0.3 0.1 0 0.2 1.8 0.7 0.4 1.0 1.4 1.0 1.2 0.6 0.3 0.2 0.1 0 0.2 0 0 0.2 0 2.5 0.2 0 0.4 0.7 0.5",
    "0 0 0.3 0.2 0 0 0.1 2.0 0.6 0.6 1.2 1.0 1.6 1.0 0.7 0.3 0.2 0 0.3 0 0.1 0 0 0.3 0 0.2 0.5 0.2 0.6 0.8",
    "0 0 0.2 0.4 0.1 0 0.2 2.4 1.0 0.5 1.0 1.2 1.2 1.4 0.8 0.5 0.2 0 0.2 0 0 0.3 0.2 0 0.3 0.2 0.4 0.3 0.8 1.2",
]

# ---------------------------------------------------------------- helpers
W, H, DPI = 740, 700, 100
MONO = "DejaVu Sans Mono"
GRID = "#c0c0c0"
PALETTE = dict(zip(MEMBER_IDS, PERT_COLORS))


def members_frame(rows, days):
    parts = []
    for mid, row in zip(MEMBER_IDS, rows):
        vals = np.array(row.split(), dtype=float)
        parts.append(pd.DataFrame({"day": days[:len(vals)], "value": vals, "member": mid}))
    return pd.concat(parts, ignore_index=True)


def fx(x):
    return x / W


def fy(y):
    return 1 - y / H


def draw_members(axis, frame):
    n0 = len(axis.lines)
    sns.lineplot(data=frame, x="day", y="value", hue="member", palette=PALETTE,
                 hue_order=MEMBER_IDS, estimator=None, sort=False, legend=False,
                 linewidth=0.6, marker="+", markersize=3.0, mew=0.6, ax=axis, zorder=2)
    for ln in axis.lines[n0:]:
        ln.set_markeredgecolor(ln.get_color())
        ln.set_antialiased(False)


# ---------------------------------------------------------------- figure
fig = plt.figure(figsize=(W / DPI, H / DPI), dpi=DPI, facecolor="white")
ax = fig.add_axes([fx(50), fy(599), 640 / W, 599 / H])
ax.set_facecolor("white")

draw_members(ax, members_frame(T850_MEMBERS, DAYS_12H))
draw_members(ax, members_frame(T500_MEMBERS, DAYS_12H))
for vals, col, lw, z in [(T850_CTRL, "black", 2.3, 3), (T500_CTRL, "black", 2.3, 3),
                         (T850_MEAN, "#ff0000", 3.5, 4), (T500_MEAN, "#ff0000", 3.5, 4)]:
    sns.lineplot(x=DAYS_6H, y=vals, color=col, linewidth=lw, estimator=None, sort=False,
                 ax=ax, zorder=z)

YMIN, YMAX = -52.57, 33.0
ax.set_xlim(-0.01, 15.0)
ax.set_ylim(YMIN, YMAX)
ax.set_xlabel("")
ax.set_ylabel("")

# precipitation on the right-hand scale
ax2 = ax.twinx()
draw_members(ax2, members_frame(PRECIP_MEMBERS, DAYS_12H[1:]))
sns.lineplot(x=DAYS_6H[1:], y=PRECIP_CTRL, color="black", linewidth=2.3, estimator=None,
             sort=False, ax=ax2, zorder=3)
sns.lineplot(x=DAYS_6H[1:], y=PRECIP_MEAN, color="#ff0000", linewidth=3.5, estimator=None,
             sort=False, ax=ax2, zorder=4)
ax2.set_ylim(YMIN + 45, YMAX + 45)
ax2.set_xlim(-0.01, 15.0)
ax2.set_xlabel("")
ax2.set_ylabel("")

# grid & spines
ax.set_xticks(np.arange(len(DATE_LABELS)))
ax.set_yticks(LEFT_TICKS)
ax.grid(axis="x", color=GRID, linewidth=0.8)
ax.grid(axis="y", color=GRID, linewidth=1.2)
ax.set_axisbelow(True)
ax.axhline(0, color="#8c8c8c", linewidth=1.6, zorder=1.5)
for side, sp in ax.spines.items():
    sp.set_visible(side in ("left", "right", "bottom"))
    sp.set_color(GRID)
    sp.set_linewidth(0.8)
for sp in ax2.spines.values():
    sp.set_visible(False)

# tick labels
ax.tick_params(axis="both", length=0)
ax.set_yticklabels([str(v) for v in LEFT_TICKS], fontfamily="Liberation Sans", fontsize=7.5)
ax.tick_params(axis="y", pad=13.7)
for t in ax.get_yticklabels():
    t.set_va("top")
ax2.set_yticks(RIGHT_TICKS)
ax2.set_yticklabels([str(v) for v in RIGHT_TICKS], fontfamily="Liberation Sans", fontsize=7.5)
ax2.tick_params(axis="y", length=0, pad=13.7)
for t in ax2.get_yticklabels():
    t.set_va("top")

ax.set_xticklabels(DATE_LABELS, rotation=90, fontfamily=MONO, fontsize=7.2)
ax.tick_params(axis="x", pad=1.5)
shift = ScaledTranslation(5 / DPI, 0, fig.dpi_scale_trans)
for t in ax.get_xticklabels():
    t.set_va("top")
    t.set_ha("center")
    t.set_transform(t.get_transform() + shift)

# section titles
box = dict(facecolor="white", edgecolor="none", pad=0.6)
ax.text(0.2, 11.3, "Temp. 850hPa", fontfamily=MONO, fontsize=7.2, va="center", ha="left",
        bbox=box, zorder=6)
ax.text(0.2, -15.2, "Temp. 500hPa", fontfamily=MONO, fontsize=7.2, va="center", ha="left",
        bbox=box, zorder=6)
ax.text(0.2, -41.3, "Précipitations", fontfamily=MONO, fontsize=7.2, va="center", ha="left",
        bbox=box, zorder=6)

# unit labels
fig.text(fx(31), fy(607), "(°C)", fontfamily=MONO, fontsize=7.2, ha="center", va="center")
fig.text(fx(719), fy(607), "(mm)", fontfamily=MONO, fontsize=7.2, ha="center", va="center")

# legend
fig.add_artist(Line2D([fx(35), fx(65)], [fy(639), fy(639)], color="#ff0000", linewidth=3.2,
                      transform=fig.transFigure))
fig.text(fx(75), fy(639), "Moyenne des scénarios", fontfamily=MONO, fontsize=7.2, va="center")
fig.add_artist(Line2D([fx(225), fx(255)], [fy(639), fy(639)], color="black", linewidth=3.2,
                      transform=fig.transFigure))
fig.text(fx(265), fy(639), "Contrôle/Det", fontfamily=MONO, fontsize=7.2, va="center")
fig.text(fx(265), fy(651), "CEP/ECMWF", fontfamily=MONO, fontsize=7.2, va="center")
fig.text(fx(370), fy(652), "50 Perts.", fontfamily=MONO, fontsize=7.2, va="center")
for i in range(25):
    x0 = 430 + 10.95 * i
    for k, ytop in [(i, 644.5), (25 + i, 651.5)]:
        fig.add_artist(Rectangle((fx(x0), fy(ytop + 7)), 10 / W, 7 / H,
                                 facecolor=PERT_COLORS[k], edgecolor="none",
                                 transform=fig.transFigure))
    fig.text(fx(x0 + 5), fy(639), MEMBER_IDS[i], fontfamily=MONO, fontsize=6,
             ha="center", va="center")
    fig.text(fx(x0 + 5), fy(664), MEMBER_IDS[25 + i], fontfamily=MONO, fontsize=6,
             ha="center", va="center")

# bottom title box
fig.add_artist(Rectangle((fx(20.5), fy(699.5)), (442 - 20.5) / W, (699.5 - 668) / H,
                         fill=False, edgecolor="black", linewidth=1.0,
                         transform=fig.transFigure))
fig.text(fx(30), fy(677), "Diagramme ensembles ECMWF/CEP 0.25° sur 360h pour Paris",
         fontfamily=MONO, fontsize=8.3, fontweight="bold", va="center")
fig.text(fx(30), fy(692), "Températures 850hPa et 500hPa (°C) , précipitations (mm)",
         fontfamily=MONO, fontsize=7.2, va="center")
fig.text(fx(453), fy(675), "Ensemble ECMWF/CEP du 30/11/2024 - 00Z",
         fontfamily=MONO, fontsize=7.2, va="center")
fig.text(fx(453), fy(692), "Copyright 2024 Meteociel.fr - ECMWF",
         fontfamily=MONO, fontsize=8.3, fontweight="bold", va="center")

fig.savefig("out.png", dpi=DPI, facecolor="white")
